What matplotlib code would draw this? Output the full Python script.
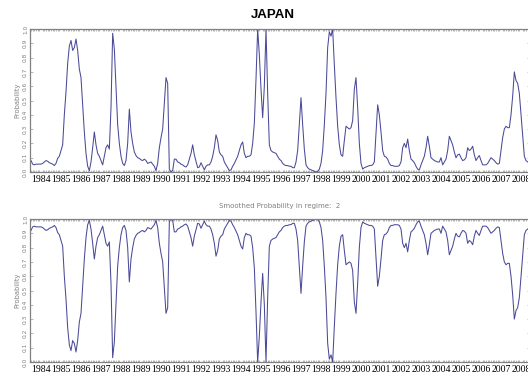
import numpy as np
import matplotlib
matplotlib.use("Agg")
import matplotlib.pyplot as plt
from matplotlib.ticker import MultipleLocator

# ---- data (monthly, starting Jan 1984) ----
start_year = 1984
regime1 = [
    0.08, 0.055, 0.05, 0.055, 0.055, 0.055, 0.055, 0.06, 0.07, 0.08, 0.075, 0.065,
    0.06, 0.055, 0.045, 0.06, 0.095, 0.11, 0.15, 0.19, 0.40, 0.56, 0.76, 0.88,
    0.92, 0.85, 0.87, 0.93, 0.85, 0.72, 0.66, 0.47, 0.28, 0.13, 0.04, 0.01,
    0.07, 0.17, 0.28, 0.19, 0.13, 0.11, 0.08, 0.05, 0.11, 0.17, 0.19, 0.16,
    0.45, 0.97, 0.86, 0.60, 0.33, 0.20, 0.11, 0.06, 0.045, 0.08, 0.20, 0.44,
    0.28, 0.20, 0.14, 0.115, 0.10, 0.095, 0.085, 0.08, 0.09, 0.08, 0.06, 0.065,
    0.07, 0.055, 0.04, 0.01, 0.06, 0.17, 0.24, 0.30, 0.48, 0.66, 0.62, 0.02,
    0.0, 0.01, 0.09, 0.09, 0.07, 0.065, 0.055, 0.05, 0.04, 0.035, 0.05, 0.09,
    0.13, 0.19, 0.12, 0.075, 0.03, 0.035, 0.065, 0.04, 0.015, 0.04, 0.05, 0.05,
    0.07, 0.11, 0.17, 0.26, 0.22, 0.14, 0.12, 0.11, 0.07, 0.05, 0.03, 0.01,
    0.015, 0.04, 0.06, 0.085, 0.11, 0.15, 0.19, 0.21, 0.13, 0.10, 0.11, 0.11,
    0.12, 0.20, 0.34, 0.65, 1.0, 0.82, 0.58, 0.38, 0.60, 1.0, 0.55, 0.19,
    0.15, 0.14, 0.135, 0.13, 0.11, 0.09, 0.08, 0.06, 0.05, 0.045, 0.045, 0.04,
    0.04, 0.03, 0.03, 0.07, 0.15, 0.33, 0.52, 0.33, 0.16, 0.05, 0.03, 0.02,
    0.015, 0.01, 0.005, 0.0, 0.005, 0.02, 0.06, 0.15, 0.33, 0.55, 0.87, 0.98,
    0.95, 1.0, 0.75, 0.52, 0.32, 0.19, 0.12, 0.11, 0.22, 0.32, 0.31, 0.30,
    0.31, 0.36, 0.58, 0.66, 0.45, 0.20, 0.06, 0.02, 0.03, 0.035, 0.04, 0.045,
    0.045, 0.05, 0.07, 0.27, 0.47, 0.40, 0.28, 0.15, 0.11, 0.105, 0.09, 0.06,
    0.045, 0.045, 0.04, 0.04, 0.04, 0.045, 0.07, 0.17, 0.20, 0.17, 0.23, 0.15,
    0.09, 0.08, 0.065, 0.04, 0.02, 0.015, 0.05, 0.08, 0.11, 0.17, 0.25, 0.18,
    0.10, 0.09, 0.08, 0.075, 0.07, 0.07, 0.10, 0.05, 0.07, 0.09, 0.15, 0.25,
    0.22, 0.19, 0.14, 0.10, 0.12, 0.125, 0.10, 0.08, 0.085, 0.10, 0.17, 0.15,
    0.16, 0.18, 0.12, 0.08, 0.10, 0.115, 0.08, 0.05, 0.05, 0.05, 0.06, 0.08,
    0.10, 0.09, 0.08, 0.065, 0.055, 0.06, 0.15, 0.24, 0.30, 0.32, 0.31, 0.31,
    0.40, 0.53, 0.70, 0.64, 0.62, 0.55, 0.40, 0.26, 0.11, 0.08, 0.07,
]
regime2 = [
    0.92, 0.945, 0.95, 0.945, 0.945, 0.945, 0.945, 0.94, 0.93, 0.92, 0.925, 0.935,
    0.94, 0.945, 0.955, 0.94, 0.905, 0.89, 0.85, 0.81, 0.60, 0.44, 0.24, 0.12,
    0.08, 0.15, 0.13, 0.07, 0.15, 0.28, 0.34, 0.53, 0.72, 0.87, 0.96, 0.99,
    0.93, 0.83, 0.72, 0.81, 0.87, 0.89, 0.92, 0.95, 0.89, 0.83, 0.81, 0.84,
    0.55, 0.03, 0.14, 0.40, 0.67, 0.80, 0.89, 0.94, 0.955, 0.92, 0.80, 0.56,
    0.72, 0.80, 0.86, 0.885, 0.90, 0.905, 0.915, 0.92, 0.91, 0.92, 0.94, 0.935,
    0.93, 0.945, 0.96, 0.99, 0.94, 0.83, 0.76, 0.70, 0.52, 0.34, 0.38, 0.98,
    1.0, 0.99, 0.91, 0.91, 0.93, 0.935, 0.945, 0.95, 0.96, 0.965, 0.95, 0.91,
    0.87, 0.81, 0.88, 0.925, 0.97, 0.965, 0.935, 0.96, 0.985, 0.96, 0.95, 0.95,
    0.93, 0.89, 0.83, 0.74, 0.78, 0.86, 0.88, 0.89, 0.93, 0.95, 0.97, 0.99,
    0.985, 0.96, 0.94, 0.915, 0.89, 0.85, 0.81, 0.79, 0.87, 0.90, 0.89, 0.89,
    0.88, 0.80, 0.66, 0.35, 0.0, 0.18, 0.42, 0.62, 0.40, 0.0, 0.45, 0.81,
    0.85, 0.86, 0.865, 0.87, 0.89, 0.91, 0.92, 0.94, 0.95, 0.955, 0.955, 0.96,
    0.96, 0.97, 0.97, 0.93, 0.85, 0.67, 0.48, 0.67, 0.84, 0.95, 0.97, 0.98,
    0.985, 0.99, 0.995, 1.0, 0.995, 0.98, 0.94, 0.85, 0.67, 0.45, 0.13, 0.02,
    0.05, 0.0, 0.25, 0.48, 0.68, 0.81, 0.88, 0.89, 0.78, 0.68, 0.69, 0.70,
    0.69, 0.64, 0.42, 0.34, 0.55, 0.80, 0.94, 0.98, 0.97, 0.965, 0.96, 0.955,
    0.955, 0.95, 0.93, 0.73, 0.53, 0.60, 0.72, 0.85, 0.89, 0.895, 0.91, 0.94,
    0.955, 0.955, 0.96, 0.96, 0.96, 0.955, 0.93, 0.83, 0.80, 0.83, 0.77, 0.85,
    0.91, 0.92, 0.935, 0.96, 0.98, 0.985, 0.95, 0.92, 0.89, 0.83, 0.75, 0.82,
    0.90, 0.91, 0.92, 0.925, 0.93, 0.93, 0.90, 0.95, 0.93, 0.91, 0.85, 0.75,
    0.78, 0.81, 0.86, 0.90, 0.88, 0.875, 0.90, 0.92, 0.915, 0.90, 0.83, 0.85,
    0.84, 0.82, 0.88, 0.92, 0.90, 0.885, 0.92, 0.95, 0.95, 0.95, 0.94, 0.92,
    0.90, 0.91, 0.92, 0.935, 0.945, 0.94, 0.85, 0.76, 0.70, 0.68, 0.69, 0.69,
    0.60, 0.47, 0.30, 0.36, 0.38, 0.45, 0.60, 0.74, 0.89, 0.92, 0.93,
]
years = list(range(1984, 2009))
year_labels = [str(y) for y in years]
title = "JAPAN"
subtitle = "Smoothed Probability in regime:  2"
ylabel = "Probability"

t = start_year + np.arange(len(regime1)) / 12.0

W, H = 528, 377
fig = plt.figure(figsize=(W / 100, H / 100), dpi=100)
fig.patch.set_facecolor("white")

line_color = "#4a4a98"
spine_color = "#808080"


def make_axes(top_px, series):
    left, right = 30, 530
    height = 143
    ax = fig.add_axes([left / W, 1 - (top_px + height) / H, (right - left) / W, height / H])
    ax.plot(t, series, color=line_color, lw=0.75)
    ax.set_xlim(start_year - 0.05, start_year - 0.05 + 25.0)
    ax.set_ylim(0, 1.0)
    for s in ax.spines.values():
        s.set_color(spine_color)
        s.set_linewidth(0.9)
    ax.set_xticks([y + 0.5 for y in years])
    ax.set_xticklabels(year_labels, family=["Liberation Serif", "DejaVu Serif"],
                       fontsize=7.0, color="black")
    ax.xaxis.set_minor_locator(MultipleLocator(1 / 12))
    ax.tick_params(axis="x", which="major", length=0, pad=2)
    ax.tick_params(axis="x", which="minor", direction="in", length=1.5, width=0.5,
                   color="#999999", top=True, bottom=True)
    ax.set_yticks(np.round(np.arange(0, 1.01, 0.1), 1))
    ax.set_yticklabels([f"{v:.1f}" for v in np.arange(0, 1.01, 0.1)],
                       rotation=90, fontsize=4.2, color="#808080", va="center")
    ax.tick_params(axis="y", direction="in", length=2, width=0.5, color="#999999",
                   left=True, right=True, pad=1.5)
    ax.set_ylabel(ylabel, fontsize=4.8, color="#808080", labelpad=2)
    return ax


ax1 = make_axes(29, regime1)
ax2 = make_axes(219, regime2)

fig.text(273 / W, 1 - 15 / H, title, ha="center", va="center",
         fontsize=9.5, fontweight="bold", family=["Liberation Sans", "DejaVu Sans"])
fig.text(280 / W, 1 - 205.5 / H, subtitle, ha="center", va="center",
         fontsize=5, color="#808080")

fig.savefig("out.png", dpi=100, facecolor="white")
